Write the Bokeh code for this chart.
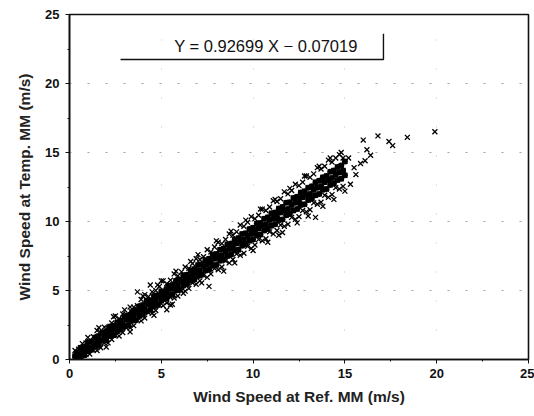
from bokeh.plotting import figure
from bokeh.models import Range1d, SingleIntervalTicker, Label
from bokeh.embed import file_html
from bokeh.resources import INLINE

# ---- data ----
xa = [0.3, 0.5, 0.7, 0.9, 1.1, 1.3, 1.5, 1.7, 1.9, 2.1, 2.3, 2.5, 2.7, 2.9, 3.1, 3.3, 3.5, 3.7, 3.9, 4.1,
      4.3, 4.5, 4.7, 4.9, 5.1, 5.3, 5.5, 5.7, 5.9, 6.1, 6.3, 6.5, 6.7, 6.9, 7.1, 7.3, 7.5, 7.7, 7.9, 8.1,
      8.3, 8.5, 8.7, 8.9, 9.1, 9.3, 9.5, 9.7, 9.9, 10.1, 10.3, 10.5, 10.7, 10.9, 11.1, 11.3, 11.5, 11.7,
      11.9, 12.1, 12.3, 12.5, 12.7, 12.9, 13.1, 13.3, 13.5, 13.7, 13.9, 14.1, 14.3, 14.5, 14.7, 14.9]
ya_hi = [0.65, 0.75, 1.15, 1.2, 1.3, 1.65, 2.1, 1.95, 2.35, 2.25, 2.65, 3.15, 2.95, 3.3, 3.25, 3.8, 3.8, 3.9, 4.35, 4.7,
         4.55, 4.9, 5.0, 5.3, 5.7, 5.5, 5.75, 6.2, 6.05, 6.35, 6.7, 6.6, 6.95, 7.3, 7.25, 7.45, 7.95, 7.8, 8.15, 8.5,
         8.4, 8.7, 9.1, 9.0, 9.25, 9.75, 9.65, 9.95, 10.35, 10.2, 10.45, 10.9, 10.8, 11.05, 11.5, 11.45, 11.65, 12.15,
         12.0, 12.25, 12.7, 12.6, 12.85, 13.3, 13.2, 13.45, 13.9, 13.8, 14.0, 14.45, 14.3, 14.6, 14.85, 14.6]
ya_mid = [0.25, 0.4, 0.5, 0.75, 0.85, 1.15, 1.3, 1.4, 1.75, 1.85, 2.05, 2.25, 2.5, 2.55, 2.9, 3.0, 3.15, 3.4, 3.6, 3.65,
          4.0, 4.1, 4.25, 4.55, 4.6, 4.8, 5.1, 5.2, 5.35, 5.65, 5.75, 5.95, 6.15, 6.35, 6.45, 6.75, 6.9, 7.0, 7.3, 7.45,
          7.55, 7.85, 8.0, 8.15, 8.4, 8.55, 8.7, 8.95, 9.1, 9.25, 9.5, 9.7, 9.8, 10.1, 10.2, 10.35, 10.65, 10.8,
          10.9, 11.2, 11.35, 11.45, 11.75, 11.9, 12.0, 12.3, 12.45, 12.55, 12.85, 13.0, 13.15, 13.4, 13.55, 13.7]
ya_lo = [0.0, 0.15, 0.1, 0.35, 0.4, 0.7, 0.65, 0.85, 1.2, 1.2, 1.45, 1.75, 1.7, 1.95, 2.3, 2.3, 2.45, 2.85, 2.8, 3.0,
         3.4, 3.35, 3.55, 3.95, 3.9, 4.1, 4.5, 4.45, 4.6, 5.0, 4.95, 5.15, 5.55, 5.45, 5.7, 6.1, 5.95, 6.2, 6.6, 6.5,
         6.7, 7.15, 7.0, 7.25, 7.65, 7.55, 7.7, 8.2, 8.05, 8.3, 8.7, 8.6, 8.75, 9.25, 9.1, 9.35, 9.75, 9.65,
         9.8, 10.3, 10.15, 10.35, 10.8, 10.7, 10.85, 11.35, 11.25, 11.4, 11.9, 11.75, 11.95, 12.45, 12.35, 12.55]

xb = [0.4, 0.6, 0.8, 1.0, 1.2, 1.4, 1.6, 1.8, 2.0, 2.2, 2.4, 2.6, 2.8, 3.0, 3.2, 3.4, 3.6, 3.8, 4.0, 4.2,
      4.4, 4.6, 4.8, 5.0, 5.28, 5.4, 5.6, 5.8, 6.0, 6.2, 6.4, 6.6, 6.8, 7.0, 7.2, 7.4, 7.6, 7.8, 8.0, 8.2,
      8.4, 8.6, 8.8, 9.0, 9.2, 9.4, 9.6, 9.8, 10.0, 10.2, 10.4, 10.6, 10.8, 11.0, 11.2, 11.4, 11.6, 11.8,
      12.0, 12.2, 12.4, 12.6, 12.8, 13.0, 13.2, 13.4, 13.6, 13.8, 14.0, 14.2, 14.4, 14.6, 14.8, 15.0]
yb_hi = [0.5, 0.85, 0.95, 1.25, 1.3, 1.6, 1.7, 1.95, 2.05, 2.4, 2.45, 2.7, 2.8, 3.1, 3.2, 3.45, 3.55, 3.85, 3.95, 4.25,
         4.3, 4.6, 4.65, 4.95, 5.1, 5.35, 5.4, 5.7, 5.8, 6.1, 6.15, 6.45, 6.55, 6.85, 6.9, 7.2, 7.3, 7.6, 7.65, 7.95,
         8.05, 8.35, 8.4, 8.7, 8.8, 9.1, 9.15, 9.45, 9.55, 9.85, 9.9, 10.2, 10.3, 10.6, 10.65, 10.95, 11.05, 11.35,
         11.4, 11.7, 11.8, 12.1, 12.2, 12.45, 12.55, 12.85, 12.95, 13.2, 13.3, 13.6, 13.7, 13.95, 14.05, 14.35]
yb_lo = [0.05, 0.25, 0.3, 0.6, 0.7, 0.95, 1.05, 1.35, 1.4, 1.7, 1.75, 2.05, 2.15, 2.4, 2.5, 2.8, 2.85, 3.15, 3.25, 3.5,
         3.6, 3.85, 3.95, 4.25, 4.4, 4.65, 4.7, 5.0, 5.05, 5.35, 5.45, 5.7, 5.8, 6.05, 6.15, 6.45, 6.5, 6.8, 6.85, 7.15,
         7.25, 7.5, 7.6, 7.9, 7.95, 8.25, 8.35, 8.6, 8.7, 9.0, 9.05, 9.35, 9.45, 9.7, 9.8, 10.1, 10.15, 10.45,
         10.55, 10.8, 10.9, 11.2, 11.25, 11.55, 11.65, 11.9, 12.0, 12.3, 12.35, 12.65, 12.75, 13.0, 13.1, 13.35]

# ragged fringe, sparse points and outliers
xc = [1.0, 1.6, 2.4, 2.0, 3.3, 3.0, 4.0, 4.6, 4.8, 5.0, 5.5, 6.2, 5.8, 6.6, 7.2, 7.0, 8.0, 8.4, 8.8, 9.0,
      9.6, 10.0, 10.4, 10.8, 11.2, 11.4, 12.0, 12.4, 12.8, 13.0, 13.6, 13.8, 14.2, 14.4, 14.8, 15.0,
      15.3, 15.85, 16.0, 16.4, 16.8, 17.4, 17.6, 18.4, 19.9, 15.5, 16.1, 15.2, 15.6, 16.2,
      3.7, 4.4, 5.6, 5.3, 7.6, 11.6, 13.4]
yc = [1.6, 2.3, 3.1, 0.9, 2.0, 3.6, 4.6, 3.2, 5.4, 5.7, 3.95, 4.8, 6.4, 7.1, 5.55, 7.6, 8.6, 6.4, 9.3, 7.0,
      10.1, 7.9, 10.9, 8.5, 11.6, 9.0, 12.4, 9.9, 13.3, 10.4, 14.0, 11.1, 14.6, 11.6, 15.0, 12.2,
      12.7, 14.2, 15.9, 14.8, 16.2, 15.8, 15.5, 16.1, 16.5, 13.9, 14.4, 14.6, 13.4, 15.2,
      4.9, 5.4, 4.0, 3.6, 5.3, 9.2, 10.3]

x_label = "Wind Speed at Ref. MM (m/s)"
y_label = "Wind Speed at Temp. MM (m/s)"
equation = "Y = 0.92699 X \u2212 0.07019"

# ---- figure ----
p = figure(width=534, height=416, output_backend="svg", toolbar_location=None,
           x_range=Range1d(0, 25), y_range=Range1d(0, 25),
           min_border_left=69, min_border_right=6, min_border_top=14, min_border_bottom=57)
p.background_fill_color = "white"
p.border_fill_color = "white"
p.outline_line_color = "#111111"
p.outline_line_width = 1.6

xs_all = xa + xa + xa + xb + xb + xc
ys_all = ya_hi + ya_mid + ya_lo + yb_hi + yb_lo + yc
p.scatter(xs_all, ys_all, marker="x", size=7, line_color="black", line_width=1.3)

# dense core of the cloud
xs_core = xa + xb + xb
ys_core = ya_mid + yb_hi + yb_lo
p.scatter(xs_core, ys_core, marker="circle", size=6, fill_color="black", line_color=None)

for ax in (p.xaxis[0], p.yaxis[0]):
    ax.ticker = SingleIntervalTicker(interval=5, num_minor_ticks=2)
    ax.axis_line_color = "#111111"
    ax.axis_line_width = 1.6
    ax.major_tick_line_color = "#111111"
    ax.minor_tick_line_color = "#111111"
    ax.major_tick_out = 4
    ax.major_tick_in = 0
    ax.minor_tick_out = 2
    ax.minor_tick_in = 0
    ax.major_label_text_font = "Liberation Sans"
    ax.major_label_text_font_style = "bold"
    ax.major_label_text_font_size = "13px"
    ax.major_label_text_color = "#111111"
    ax.axis_label_text_font = "Liberation Sans"
    ax.axis_label_text_font_style = "bold"
    ax.axis_label_text_font_size = "15.5px"
    ax.axis_label_text_color = "#222222"

p.xaxis.axis_label = x_label
p.yaxis.axis_label = y_label
p.xaxis.major_label_standoff = 5
p.xaxis.axis_label_standoff = 7
p.yaxis.major_label_standoff = 6
p.yaxis.axis_label_standoff = 9

p.xgrid.grid_line_color = "#777777"
p.xgrid.grid_line_alpha = 0.45
p.xgrid.grid_line_dash = "1 28"
p.ygrid.grid_line_color = "#555555"
p.ygrid.grid_line_alpha = 0.55
p.ygrid.grid_line_dash = "2 16"

# equation box (bottom and right edges visible)
box_x0, box_x1, box_y0, box_y1 = 2.78, 17.1, 21.74, 23.6
p.line([box_x0, box_x1, box_x1], [box_y0, box_y0, box_y1], line_color="#111111", line_width=1.4)
p.add_layout(Label(x=10.7, y=22.7, text=equation, text_align="center", text_baseline="middle",
                   text_font="Liberation Sans", text_font_size="16.5px", text_color="#111111"))

open("out.html", "w").write(file_html(p, INLINE))
